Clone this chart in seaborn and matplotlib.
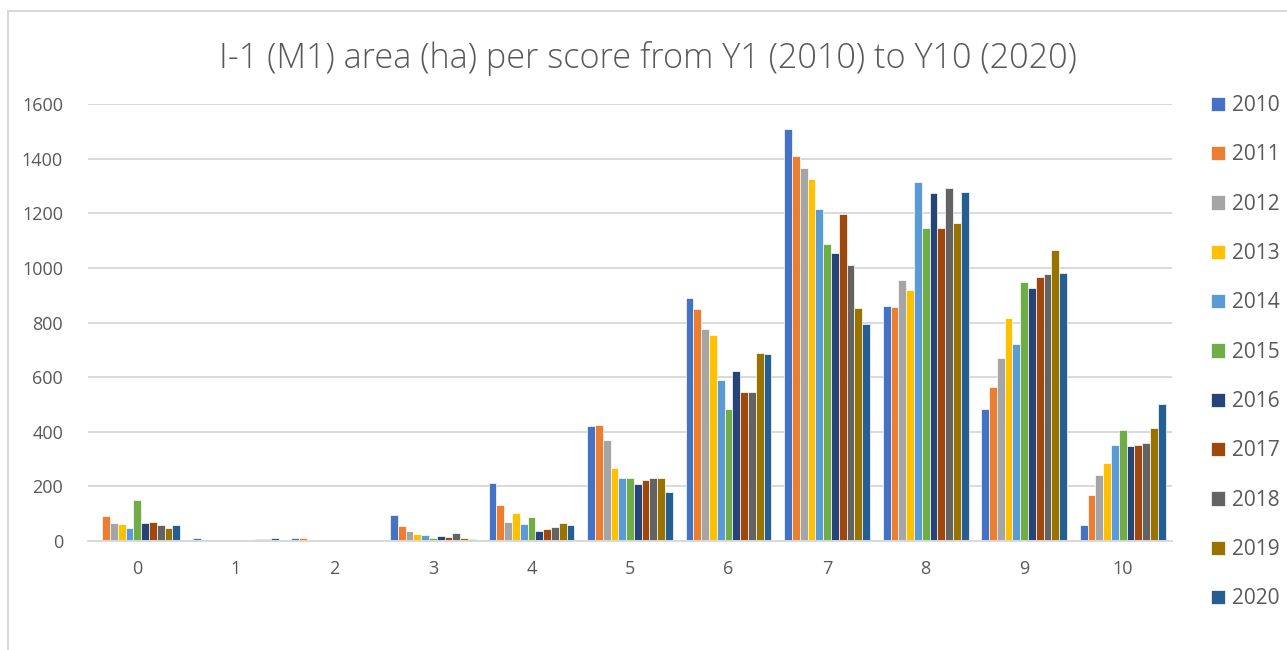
import matplotlib
matplotlib.use('Agg')
import matplotlib.pyplot as plt
import pandas as pd
import seaborn as sns
from matplotlib.patches import Rectangle

# dados (area em ha por score e por ano)
scores = [0, 1, 2, 3, 4, 5, 6, 7, 8, 9, 10]
years = ['2010', '2011', '2012', '2013', '2014', '2015',
         '2016', '2017', '2018', '2019', '2020']

area_2010 = [0, 10, 11, 96, 212, 421, 889, 1508, 860, 485, 60]
area_2011 = [91, 0, 12, 54, 131, 424, 850, 1408, 856, 563, 167]
area_2012 = [65, 0, 0, 35, 70, 371, 778, 1367, 957, 670, 242]
area_2013 = [64, 1, 0, 26, 103, 267, 755, 1324, 918, 815, 285]
area_2014 = [47, 4, 0, 21, 62, 230, 588, 1214, 1314, 723, 350]
area_2015 = [151, 1, 4, 12, 89, 230, 482, 1087, 1146, 950, 405]
area_2016 = [67, 0, 5, 17, 37, 209, 624, 1053, 1273, 925, 346]
area_2017 = [69, 0, 0, 14, 43, 223, 544, 1199, 1147, 965, 353]
area_2018 = [57, 9, 2, 28, 51, 230, 544, 1009, 1291, 977, 360]
area_2019 = [47, 9, 2, 10, 65, 232, 687, 852, 1165, 1064, 415]
area_2020 = [60, 11, 0, 6, 57, 181, 684, 793, 1277, 981, 501]

colors = ['#4472C4', '#ED7D31', '#A5A5A5', '#FFC000', '#5B9BD5', '#70AD47',
          '#264478', '#9E480E', '#636363', '#997300', '#255E91']

series = [area_2010, area_2011, area_2012, area_2013, area_2014, area_2015,
          area_2016, area_2017, area_2018, area_2019, area_2020]

# montar tabela longa
rows = []
for y, vals in zip(years, series):
    for s, v in zip(scores, vals):
        rows.append({'score': str(s), 'year': y, 'area': v})
df = pd.DataFrame(rows)

sns.set_style('white')
plt.rcParams['font.family'] = ['Open Sans', 'DejaVu Sans']
text_color = '#595959'
grid_color = '#D9D9D9'

fig = plt.figure(figsize=(12.87, 6.5), dpi=100)
ax = fig.add_axes([88 / 1287, 109 / 650, (1172 - 88) / 1287, (541 - 104) / 650])

sns.barplot(data=df, x='score', y='area', hue='year', palette=colors,
            saturation=1, width=0.87, edgecolor='white', linewidth=0.5,
            ax=ax, order=[str(s) for s in scores], hue_order=years)

ax.set_ylim(0, 1600)
ax.set_yticks(range(0, 1601, 200))
ax.yaxis.grid(True, color=grid_color, linewidth=1.4)
ax.set_axisbelow(True)
for side in ['top', 'right', 'left']:
    ax.spines[side].set_visible(False)
ax.spines['bottom'].set_color(grid_color)
ax.spines['bottom'].set_linewidth(1.4)
ax.tick_params(axis='both', length=0, labelsize=13, colors=text_color)
ax.tick_params(axis='x', pad=14)
ax.tick_params(axis='y', pad=18)
ax.set_xlabel('')
ax.set_ylabel('')

# legenda a direita
handles, labels = ax.get_legend_handles_labels()
ax.get_legend().remove()
fig.legend(handles, labels, loc='upper left',
           bbox_to_anchor=(1211 / 1287, 1 - 95 / 650),
           frameon=False, fontsize=15, labelcolor=text_color,
           handlelength=0.68, handleheight=0.68, handletextpad=0.35,
           labelspacing=1.36, borderpad=0, borderaxespad=0)

fig.text(648 / 1287, 1 - 58 / 650,
         'I-1 (M1) area (ha) per score from Y1 (2010) to Y10 (2020)',
         ha='center', va='center', fontsize=24.7, color=text_color,
         fontweight='light')

# moldura do grafico
fig.patches.append(Rectangle((8 / 1287, -0.1), 1.2, 1.1 - 11 / 650,
                             transform=fig.transFigure, fill=False,
                             edgecolor=grid_color, linewidth=1.5))

fig.savefig('out.png', dpi=100)
